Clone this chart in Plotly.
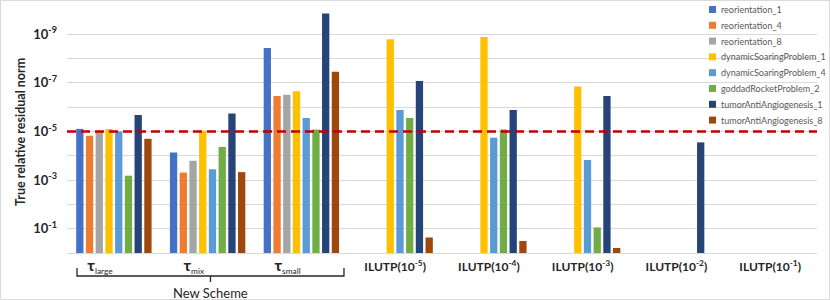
import plotly.graph_objects as go

# ---------------- data ----------------
categories = ["tau_large", "tau_mix", "tau_small", "ILUTP(1e-5)", "ILUTP(1e-4)",
              "ILUTP(1e-3)", "ILUTP(1e-2)", "ILUTP(1e-1)"]
PAD = "\u00a0" * 9
TAU = '<span style="font-size:16px"><b>τ</b></span>'
tick_labels = [TAU + "<sub>large</sub>" + PAD, TAU + "<sub>mix</sub>" + PAD,
               TAU + "<sub>small</sub>" + PAD,
               "<b>ILUTP(10<sup>-5</sup>)</b>", "<b>ILUTP(10<sup>-4</sup>)</b>",
               "<b>ILUTP(10<sup>-3</sup>)</b>", "<b>ILUTP(10<sup>-2</sup>)</b>",
               "<b>ILUTP(10<sup>-1</sup>)</b>"]

reorientation_1 = [7.8e-6, 7.4e-5, 3.7e-9, None, None, None, None, None]
reorientation_4 = [1.5e-5, 4.9e-4, 3.5e-7, None, None, None, None, None]
reorientation_8 = [1.0e-5, 1.6e-4, 3.1e-7, None, None, None, None, None]
dynamicSoaringProblem_1 = [7.9e-6, 9.3e-6, 2.2e-7, 1.6e-9, 1.3e-9, 1.4e-7, None, None]
dynamicSoaringProblem_4 = [1.0e-5, 3.6e-4, 2.8e-6, 1.3e-6, 1.8e-5, 1.5e-4, None, None]
goddadRocketProblem_2 = [6.6e-4, 4.3e-5, 8.3e-6, 2.8e-6, 8.3e-6, 8.9e-2, None, None]
tumorAntiAngiogenesis_1 = [2.1e-6, 1.8e-6, 1.4e-10, 8.3e-8, 1.3e-6, 3.5e-7, 2.8e-5, None]
tumorAntiAngiogenesis_8 = [2.0e-5, 4.7e-4, 3.5e-8, 0.23, 0.32, 0.62, None, None]

threshold = 1e-5

series = [
    ("reorientation_1", reorientation_1, "#4472C4"),
    ("reorientation_4", reorientation_4, "#ED7D31"),
    ("reorientation_8", reorientation_8, "#A5A5A5"),
    ("dynamicSoaringProblem_1", dynamicSoaringProblem_1, "#FFC000"),
    ("dynamicSoaringProblem_4", dynamicSoaringProblem_4, "#5B9BD5"),
    ("goddadRocketProblem_2", goddadRocketProblem_2, "#70AD47"),
    ("tumorAntiAngiogenesis_1", tumorAntiAngiogenesis_1, "#264478"),
    ("tumorAntiAngiogenesis_8", tumorAntiAngiogenesis_8, "#9E480E"),
]

FONT = "Lato"
W, H = 830, 300
ML, MR, MT, MB = 67, 13, 10, 47
PW, PH = W - ML - MR, H - MT - MB


def px_x(x):  # pixel -> paper x
    return (x - ML) / PW


def px_y(y):  # pixel -> paper y
    return (H - MB - y) / PH


fig = go.Figure()

# bars grow from 10^0 (bottom of the reversed log axis) to the value
for name, vals, col in series:
    fig.add_trace(go.Bar(
        x=categories,
        y=[(v - 1) if v is not None else None for v in vals],
        base=1,
        customdata=vals,
        hovertemplate="%{customdata:.2e}<extra>" + name + "</extra>",
        name=name,
        marker=dict(color=col, line=dict(width=0)),
        showlegend=False,
    ))

# threshold line across whole plot width
fig.add_trace(go.Scatter(
    x=[0, 1], y=[threshold, threshold], xaxis="x2", yaxis="y",
    mode="lines", line=dict(color="#C00000", width=2.6, dash="9px,5px"),
    showlegend=False, hoverinfo="skip",
))

label_exps = [9, 7, 5, 3, 1]
grid_exps = [10, 8, 6, 4, 2]

fig.update_layout(
    width=W, height=H,
    margin=dict(l=ML, r=MR, t=MT, b=MB, autoexpand=False),
    paper_bgcolor="white", plot_bgcolor="white",
    font=dict(family=FONT, color="#333333"),
    barmode="group", bargap=0.17, bargroupgap=0.25,
    showlegend=False,
    xaxis=dict(
        type="category", categoryorder="array", categoryarray=categories,
        tickvals=categories, ticktext=tick_labels,
        tickfont=dict(size=12, color="#262626"),
        showgrid=False, showline=True, linecolor="#D9D9D9", linewidth=1,
        ticks="", ticklabelstandoff=3, automargin=False,
    ),
    xaxis2=dict(overlaying="x", range=[0, 1], visible=False, fixedrange=True),
    yaxis=dict(
        type="log", range=[0, -10],
        tickvals=[10.0 ** -k for k in label_exps],
        ticktext=["<b>10<sup>-%d</sup></b>" % k for k in label_exps],
        tickfont=dict(size=13, color="#262626"),
        showgrid=True, gridcolor="#D9D9D9", gridwidth=1,
        minor=dict(tickvals=[10.0 ** -k for k in grid_exps], showgrid=True,
                   gridcolor="#D9D9D9", gridwidth=1, ticks=""),
        zeroline=False, showline=False, ticks="", ticklabelstandoff=9,
        automargin=False,
    ),
)

# y-axis title
fig.add_annotation(text="<b>True relative residual norm</b>", xref="paper", yref="paper",
                   x=px_x(20.5), y=px_y(132.5), textangle=-90, showarrow=False,
                   xanchor="center", yanchor="middle",
                   font=dict(size=12.5, color="#262626", family=FONT))

# legend (drawn manually to match the original compact spacing)
for i, (name, vals, col) in enumerate(series):
    yc = 9.5 + 15.8 * i
    fig.add_shape(type="rect", xref="paper", yref="paper",
                  x0=px_x(709), x1=px_x(716), y0=px_y(yc + 3.5), y1=px_y(yc - 3.5),
                  fillcolor=col, line=dict(width=0))
    fig.add_annotation(text=name, xref="paper", yref="paper",
                       x=px_x(719), y=px_y(yc), showarrow=False,
                       xanchor="left", yanchor="middle",
                       font=dict(size=9, color="#595959", family=FONT))

# "New Scheme" bracket under the first three groups
fig.add_shape(type="path", xref="paper", yref="paper",
              path="M %.4f,%.4f L %.4f,%.4f L %.4f,%.4f L %.4f,%.4f M %.4f,%.4f L %.4f,%.4f" % (
                  px_x(77), px_y(268), px_x(77), px_y(276), px_x(344), px_y(276), px_x(344), px_y(268),
                  px_x(210.5), px_y(276), px_x(210.5), px_y(282)),
              line=dict(color="#262626", width=1.3))
fig.add_annotation(text="New Scheme", xref="paper", yref="paper",
                   x=px_x(210.5), y=px_y(292.5), showarrow=False, xanchor="center", yanchor="middle",
                   font=dict(size=13, color="#262626", family=FONT))

# chart-area border
fig.add_shape(type="rect", xref="paper", yref="paper",
              x0=px_x(0.5), x1=px_x(829.5), y0=px_y(299.5), y1=px_y(0.5),
              line=dict(color="#D9D9D9", width=1), layer="below")

fig.write_html("out.html", config={"displayModeBar": False},
               post_script="document.body.style.margin='0';")
